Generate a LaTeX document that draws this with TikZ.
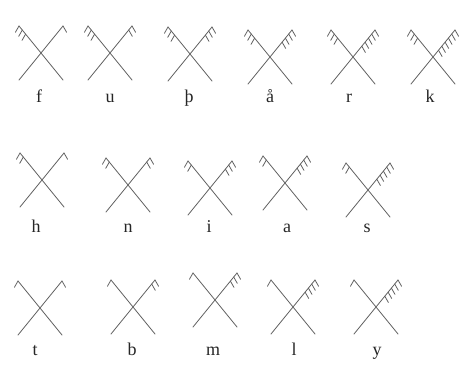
\documentclass[tikz,border=0pt]{standalone}
\usepackage{fontspec}
\setmainfont{Liberation Serif}
\tikzset{
  stroke/.style={draw=black!62, line width=0.8pt, line cap=round},
  lbl/.style={font=\fontsize{18}{20}\selectfont, text=black!85, inner sep=0pt, anchor=base}
}
\newcommand\runeX[4]{%
  \begin{scope}[shift={(#1,379-#2)}]
    \draw[stroke] (-22,-27) -- (22,27);
    \draw[stroke] (22,-27) -- (-22,27);
    \foreach \i in {1,...,#3}
      \draw[stroke] ({-22+(\i-1)*3.3},{27-(\i-1)*4.05}) -- ++(-3.6,-6.3);
    \foreach \i in {1,...,#4}
      \draw[stroke] ({22-(\i-1)*3.3},{27-(\i-1)*4.05}) -- ++(3.6,-6.3);
  \end{scope}}
\begin{document}
\begin{tikzpicture}[x=1pt,y=1pt]
\fill[white] (0,0) rectangle (465,379);
\useasboundingbox (0,0) rectangle (465,379);
% row 1
\runeX{41}{53}{3}{1}
\runeX{110}{53}{3}{2}
\runeX{190}{54}{3}{3}
\runeX{270}{57}{3}{4}
\runeX{353}{57}{3}{5}
\runeX{433}{57}{3}{6}
\node[lbl] (f) at (39,379-103) {f};
\node[lbl] (u) at (110,379-103) {u};
\node[lbl] (th) at (189,379-103) {þ};
\node[lbl] (ao) at (270,379-103) {å};
\node[lbl] (r) at (349,379-103) {r};
\node[lbl] (k) at (430,379-103) {k};
% row 2
\runeX{42}{180}{2}{1}
\runeX{128}{185}{2}{2}
\runeX{210}{188}{2}{3}
\runeX{285}{183}{2}{4}
\runeX{368}{190}{2}{5}
\node[lbl] (h) at (36,379-233) {h};
\node[lbl] (n) at (128,379-233) {n};
\node[lbl] (i) at (209,379-233) {i};
\node[lbl] (a) at (287,379-233) {a};
\node[lbl] (s) at (367,379-233) {s};
% row 3
\runeX{40}{308}{1}{1}
\runeX{133}{307}{1}{2}
\runeX{215}{300}{1}{3}
\runeX{293}{307}{1}{4}
\runeX{376}{307}{1}{5}
\node[lbl] (t) at (35,379-356) {t};
\node[lbl] (b) at (132,379-356) {b};
\node[lbl] (m) at (213,379-356) {m};
\node[lbl] (l) at (294,379-356) {l};
\node[lbl] (y) at (377,379-356) {y};
\end{tikzpicture}
\end{document}
